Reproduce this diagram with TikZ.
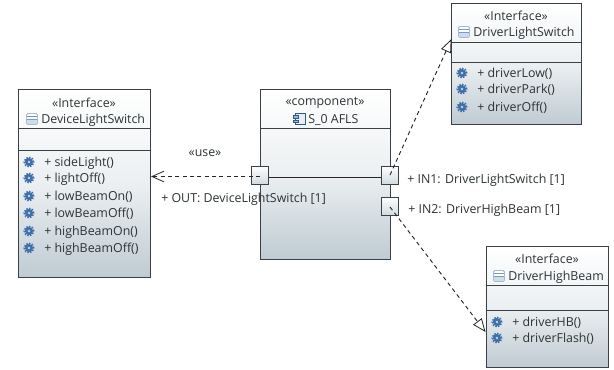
\documentclass[tikz,border=0pt]{standalone}
\usepackage{fontspec}
\setmainfont{Open Sans}
\usetikzlibrary{arrows.meta}
\definecolor{inkc}{HTML}{2E3436}
\definecolor{edgec}{HTML}{3A4045}
\definecolor{gearc}{HTML}{3F6FA8}
\definecolor{shadeb}{HTML}{BFCBD2}
\tikzset{
  x=0.75pt,y=-0.75pt,
  umlbox/.style={draw=edgec,line width=0.8pt,anchor=north west,inner sep=0pt,top color=white,bottom color=shadeb,middle color=white!70!shadeb},
  portbox/.style={draw=edgec,line width=0.7pt,anchor=center,inner sep=0pt,minimum width=13.2pt,minimum height=13pt,top color=white!95!shadeb,bottom color=white!30!shadeb},
  txt/.style={font=\fontsize{9.3pt}{11pt}\selectfont,text=inkc,inner sep=0pt,yshift=-0.9pt},
  opname/.style={txt,anchor=west},
  stereo/.style={txt},
  divline/.style={draw=edgec,line width=0.7pt},
  wire/.style={draw=black!85,line width=0.7pt},
  dep/.style={wire,dashed,dash pattern=on 3pt off 2.5pt},
  gearicon/.pic={
    \fill[gearc!45!white] (0,0) circle (3.2pt);
    \draw[gearc,line width=1.5pt,dash pattern=on 1.1pt off 0.95pt] (0,0) circle (3.4pt);
    \fill[gearc] (0,0) circle (2.9pt);
    \fill[gearc!30!white] (0,0) circle (1.1pt);
  },
  ifaceicon/.pic={
    \draw[gearc!70!white,line width=0.45pt,fill=white,rounded corners=0.8pt] (-4pt,-4pt) rectangle (4pt,4pt);
    \fill[gearc!25!white] (-3.7pt,-3.7pt) rectangle (3.7pt,-0.5pt);
    \draw[gearc!70!white,line width=0.45pt] (-4pt,-0.5pt) -- (4pt,-0.5pt) (-4pt,1.8pt) -- (4pt,1.8pt);
  },
  compicon/.pic={
    \draw[gearc!80!black,line width=0.45pt,fill=gearc!12!white] (-2.5pt,-4pt) rectangle (4.5pt,4pt);
    \draw[gearc!80!black,line width=0.45pt,fill=gearc!50!white] (-4.5pt,-2.6pt) rectangle (-0.8pt,-0.7pt);
    \draw[gearc!80!black,line width=0.45pt,fill=gearc!50!white] (-4.5pt,0.7pt) rectangle (-0.8pt,2.6pt);
  },
}
\begin{document}
\begin{tikzpicture}
\useasboundingbox (0,0) rectangle (614,369);
\fill[white] (0,0) rectangle (614,369);

% component
\node[umlbox,minimum width=97.5pt,minimum height=127.5pt] (comp) at (260,89) {};
\draw[divline] (260,128) -- (390,128);
\node[stereo] (compst) at (325,102) {«component»};
\pic at (299,119) {compicon};
\node[opname] (compnm) at (308,119) {S\_0 AFLS};

% interface: DeviceLightSwitch
\node[umlbox,minimum width=99pt,minimum height=141pt] (dev) at (18,89) {};
\draw[divline] (18,128) -- (150,128);
\draw[divline] (18,150) -- (150,150);
\node[stereo] (devst) at (84,102) {«Interface»};
\pic at (32,119) {ifaceicon};
\node[opname] (devnm) at (41,119) {DeviceLightSwitch};
\foreach \n/\y/\t in {a/162/sideLight(),b/178/lightOff(),c/196/lowBeamOn(),d/213/lowBeamOff(),e/231/highBeamOn(),f/248/highBeamOff()}{
  \pic at (29,\y) {gearicon};
  \node[opname] (dev\n) at (44,\y) {+ \t};
}

% interface: DriverLightSwitch
\node[umlbox,minimum width=97.5pt,minimum height=90.75pt] (dls) at (451,3) {};
\draw[divline] (451,42) -- (581,42);
\draw[divline] (451,62) -- (581,62);
\node[stereo] (dlsst) at (516,15) {«Interface»};
\pic at (464,32) {ifaceicon};
\node[opname] (dlsnm) at (473,32) {DriverLightSwitch};
\foreach \n/\y/\t in {a/73/driverLow(),b/89/driverPark(),c/107/driverOff()}{
  \pic at (462,\y) {gearicon};
  \node[opname] (dls\n) at (477,\y) {+ \t};
}

% interface: DriverHighBeam
\node[umlbox,minimum width=91.5pt,minimum height=90.75pt] (dhb) at (486,246) {};
\draw[divline] (486,285) -- (608,285);
\draw[divline] (486,310) -- (608,310);
\node[stereo] (dhbst) at (547,258) {«Interface»};
\pic at (499,276) {ifaceicon};
\node[opname] (dhbnm) at (508,276) {DriverHighBeam};
\foreach \n/\y/\t in {a/322/driverHB(),b/338/driverFlash()}{
  \pic at (497,\y) {gearicon};
  \node[opname] (dhb\n) at (512,\y) {+ \t};
}

% ports
\node[portbox] (pout) at (260,175.5) {};
\node[portbox] (pin1) at (390,175.5) {};
\node[portbox] (pin2) at (390,206.5) {};

% connectors
\coordinate (tipdev) at (151,176.5);
\coordinate (tipdls) at (451.5,39);
\coordinate (tiphdb) at (485.5,332);
\coordinate (startin1) at (390,175);
\coordinate (startin2) at (390,207);
\draw[wire] (pout.east |- 0,177) -- (pin1.west |- 0,177);
\draw[dep,-{Straight Barb[length=9pt,width=8pt,line width=0.6pt]}] (pout.center |- 0,176.5) -- (tipdev);
\draw[dep,-{Triangle[open,length=10pt,width=8pt,line width=0.6pt]}] (startin1) -- (tipdls);
\draw[dep,-{Triangle[open,length=10pt,width=8pt,line width=0.6pt]}] (startin2) -- (tiphdb);

% labels
\node[stereo] (use) at (205,152) {«use»};
\node[opname] (lout) at (161,198) {+ OUT: DeviceLightSwitch [1]};
\node[opname] (lin1) at (407,179) {+ IN1: DriverLightSwitch [1]};
\node[opname] (lin2) at (408,209) {+ IN2: DriverHighBeam [1]};
\end{tikzpicture}
\end{document}
